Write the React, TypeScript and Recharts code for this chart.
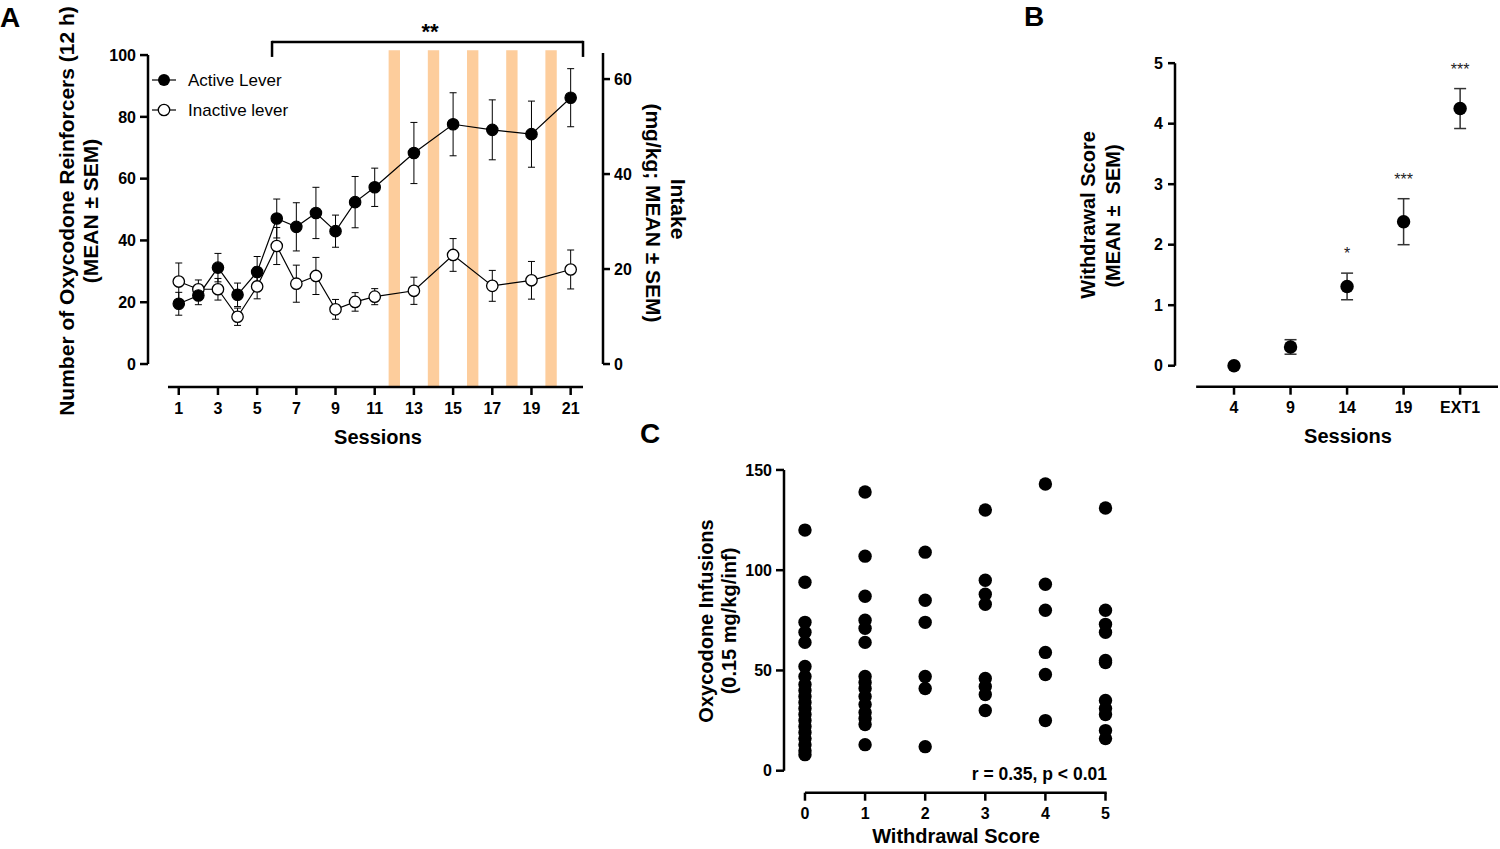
import React from 'react';
import {
  ComposedChart,
  ScatterChart,
  Line,
  Scatter,
  XAxis,
  YAxis,
  ErrorBar,
  ReferenceArea,
  ReferenceLine,
  ReferenceDot,
} from 'recharts';

const FONT = '"Liberation Sans", Arial, Helvetica, sans-serif';

// ---------- Panel A data ----------
const sessions = [1, 2, 3, 4, 5, 6, 7, 8, 9, 10, 11, 13, 15, 17, 19, 21];
const activeMean = [19.5, 22.2, 31.2, 22.4, 29.8, 47.1, 44.4, 48.9, 43.0, 52.4, 57.2, 68.3, 77.6, 75.8, 74.4, 86.2];
const activeSem = [3.7, 3.0, 4.6, 3.8, 5.0, 6.3, 7.8, 8.3, 5.2, 8.3, 6.2, 9.9, 10.2, 9.7, 10.7, 9.4];
const inactiveMean = [26.7, 24.2, 24.2, 15.3, 25.1, 38.2, 26.0, 28.5, 17.7, 20.1, 21.8, 23.7, 35.3, 25.3, 27.1, 30.6];
const inactiveSem = [6.0, 3.0, 3.5, 2.8, 4.0, 6.0, 6.0, 6.0, 3.2, 3.0, 2.6, 4.4, 5.3, 5.0, 6.1, 6.3];
const sessionTicks = [1, 3, 5, 7, 9, 11, 13, 15, 17, 19, 21];
const leftTicks = [0, 20, 40, 60, 80, 100];
const rightTicks = [0, 20, 40, 60];
const shadedSessions = [12, 14, 16, 18, 20];

// ---------- Panel B data ----------
const withdrawalSessions = ['4', '9', '14', '19', 'EXT1'];
const withdrawalMean = [0, 0.31, 1.31, 2.38, 4.25];
const withdrawalSem = [0, 0.12, 0.22, 0.38, 0.33];
const withdrawalStars = ['', '', '*', '***', '***'];
const withdrawalTicks = [0, 1, 2, 3, 4, 5];

// ---------- Panel C data ----------
const scoreLevels = [0, 1, 2, 3, 4, 5];
const infusionsScore0 = [120, 94, 74, 69, 64, 52, 47, 43, 40, 37, 34, 31, 28, 25, 22, 19, 16, 13, 10, 8];
const infusionsScore1 = [139, 107, 87, 75, 71, 64, 47, 44, 41, 37, 33, 29, 26, 23, 13];
const infusionsScore2 = [109, 85, 74, 47, 41, 12];
const infusionsScore3 = [130, 95, 88, 83, 46, 42, 38, 30];
const infusionsScore4 = [143, 93, 80, 59, 48, 25];
const infusionsScore5 = [131, 80, 73, 69, 55, 54, 35, 31, 28, 20, 16];
const infusionTicks = [0, 50, 100, 150];

const dataA = sessions.map((s, i) => ({
  session: s,
  active: activeMean[i],
  activeSem: activeSem[i],
  inactive: inactiveMean[i],
  inactiveSem: inactiveSem[i],
}));

const dataB = withdrawalSessions.map((s, i) => ({
  x: i,
  y: withdrawalMean[i],
  err: withdrawalSem[i],
}));

const columnsC = [infusionsScore0, infusionsScore1, infusionsScore2, infusionsScore3, infusionsScore4, infusionsScore5];
const dataC = columnsC.flatMap((col, s) => col.map((v) => ({ score: scoreLevels[s], inf: v })));

const tickStyle = { fill: '#000', fontSize: 16, fontWeight: 700, fontFamily: FONT };
const tickLineStyle = { stroke: '#000', strokeWidth: 2.5 };
const AX = 2.5;

const dotShape = (props: any) => <circle cx={props.cx} cy={props.cy} r={6.7} fill="#000" />;

export default function App() {
  // Panel A domains
  const aX: [number, number] = [-0.57, 22.65];
  const aYL: [number, number] = [-7.44, 112];
  const aYR: [number, number] = [-4.84, 72.86];
  // Panel B domains
  const bX: [number, number] = [-1.044, 4.67];
  const bY: [number, number] = [-0.347, 5.383];
  // Panel C domains
  const cX: [number, number] = [-0.349, 5.208];
  const cY: [number, number] = [-10.97, 154.96];

  return (
    <div style={{ position: 'absolute', left: 0, top: 0, width: 1500, height: 849, background: '#fff', fontFamily: FONT, overflow: 'hidden' }}>
      {/* Panel A */}
      <div style={{ position: 'absolute', left: 0, top: 0 }}>
        <ComposedChart width={720} height={460} data={dataA} margin={{ top: 18, right: 57, bottom: 43, left: 88 }}>
          <XAxis
            dataKey="session"
            type="number"
            domain={aX}
            allowDataOverflow
            ticks={sessionTicks}
            interval={0}
            axisLine={false}
            tickLine={tickLineStyle}
            tickSize={8}
            tickMargin={8}
            tick={tickStyle}
            height={30}
          />
          <YAxis
            yAxisId="left"
            type="number"
            domain={aYL}
            allowDataOverflow
            ticks={leftTicks}
            interval={0}
            width={60}
            axisLine={false}
            tickLine={tickLineStyle}
            tickSize={8}
            tickMargin={4}
            tick={tickStyle}
          />
          <YAxis
            yAxisId="right"
            orientation="right"
            type="number"
            domain={aYR}
            allowDataOverflow
            ticks={rightTicks}
            interval={0}
            width={60}
            axisLine={false}
            tickLine={tickLineStyle}
            tickSize={7}
            tickMargin={4}
            tick={tickStyle}
          />
          {shadedSessions.map((s) => (
            <ReferenceArea
              key={s}
              yAxisId="left"
              x1={s - 0.29}
              x2={s + 0.29}
              y1={aYL[0]}
              y2={101.6}
              fill="#FDCD9C"
              fillOpacity={1}
              stroke="none"
              ifOverflow="visible"
            />
          ))}
          {/* offset axes */}
          <ReferenceLine yAxisId="left" segment={[{ x: aX[0], y: 0 }, { x: aX[0], y: 100 }]} stroke="#000" strokeWidth={AX} ifOverflow="visible" />
          <ReferenceLine yAxisId="right" segment={[{ x: aX[1], y: 0 }, { x: aX[1], y: 65.5 }]} stroke="#000" strokeWidth={AX} ifOverflow="visible" />
          <ReferenceLine yAxisId="left" segment={[{ x: 0.45, y: aYL[0] }, { x: 21.63, y: aYL[0] }]} stroke="#000" strokeWidth={AX} ifOverflow="visible" />
          {/* significance bracket */}
          <ReferenceLine yAxisId="left" segment={[{ x: 5.76, y: 104.2 }, { x: 21.63, y: 104.2 }]} stroke="#000" strokeWidth={AX} ifOverflow="visible" />
          <ReferenceLine yAxisId="left" segment={[{ x: 5.76, y: 104.6 }, { x: 5.76, y: 99.4 }]} stroke="#000" strokeWidth={AX} ifOverflow="visible" />
          <ReferenceLine yAxisId="left" segment={[{ x: 21.63, y: 104.6 }, { x: 21.63, y: 99.4 }]} stroke="#000" strokeWidth={AX} ifOverflow="visible" />
          <Line
            yAxisId="left"
            dataKey="inactive"
            stroke="#000"
            strokeWidth={1.2}
            dot={{ r: 5.7, fill: '#fff', stroke: '#000', strokeWidth: 1.3 }}
            activeDot={false}
            isAnimationActive={false}
          >
            <ErrorBar dataKey="inactiveSem" direction="y" width={3.5} stroke="#000" strokeWidth={1} />
          </Line>
          <Line
            yAxisId="left"
            dataKey="active"
            stroke="#000"
            strokeWidth={1.2}
            dot={{ r: 5.7, fill: '#000', stroke: '#000', strokeWidth: 1.2 }}
            activeDot={false}
            isAnimationActive={false}
          >
            <ErrorBar dataKey="activeSem" direction="y" width={3.5} stroke="#000" strokeWidth={1} />
          </Line>
        </ComposedChart>
      </div>

      {/* Panel B */}
      <div style={{ position: 'absolute', left: 1060, top: 0 }}>
        <ScatterChart width={440} height={460} margin={{ top: 40, right: 2, bottom: 43.3, left: 65 }}>
          <XAxis
            dataKey="x"
            type="number"
            domain={bX}
            allowDataOverflow
            ticks={[0, 1, 2, 3, 4]}
            interval={0}
            tickFormatter={(v: number) => withdrawalSessions[v] ?? ''}
            axisLine={false}
            tickLine={tickLineStyle}
            tickSize={8}
            tickMargin={7}
            tick={tickStyle}
            height={30}
          />
          <YAxis
            dataKey="y"
            type="number"
            domain={bY}
            allowDataOverflow
            ticks={withdrawalTicks}
            interval={0}
            width={50}
            axisLine={false}
            tickLine={tickLineStyle}
            tickSize={7}
            tickMargin={5}
            tick={tickStyle}
          />
          <ReferenceLine segment={[{ x: bX[0], y: 0 }, { x: bX[0], y: 5 }]} stroke="#000" strokeWidth={AX} ifOverflow="visible" />
          <ReferenceLine segment={[{ x: -0.67, y: bY[0] }, { x: 4.67, y: bY[0] }]} stroke="#000" strokeWidth={AX} ifOverflow="visible" />
          <Scatter data={dataB} shape={dotShape} isAnimationActive={false}>
            <ErrorBar dataKey="err" direction="y" width={6} stroke="#333" strokeWidth={1.5} />
          </Scatter>
          {dataB.map((d, i) =>
            withdrawalStars[i] ? (
              <ReferenceDot
                key={i}
                x={d.x}
                y={d.y + d.err}
                r={0}
                fill="none"
                stroke="none"
                ifOverflow="visible"
                label={{ value: withdrawalStars[i], position: 'top', offset: 14, fontSize: 16, fill: '#222', fontFamily: FONT }}
              />
            ) : null
          )}
        </ScatterChart>
      </div>

      {/* Panel C */}
      <div style={{ position: 'absolute', left: 690, top: 440 }}>
        <ScatterChart width={440} height={409} margin={{ top: 20, right: 12, bottom: 26.3, left: 44 }}>
          <XAxis
            dataKey="score"
            type="number"
            domain={cX}
            allowDataOverflow
            ticks={scoreLevels}
            interval={0}
            axisLine={false}
            tickLine={tickLineStyle}
            tickSize={8}
            tickMargin={7}
            tick={tickStyle}
            height={30}
          />
          <YAxis
            dataKey="inf"
            type="number"
            domain={cY}
            allowDataOverflow
            ticks={infusionTicks}
            interval={0}
            width={50}
            axisLine={false}
            tickLine={tickLineStyle}
            tickSize={8}
            tickMargin={4}
            tick={tickStyle}
          />
          <ReferenceLine segment={[{ x: cX[0], y: 0 }, { x: cX[0], y: 150 }]} stroke="#000" strokeWidth={AX} ifOverflow="visible" />
          <ReferenceLine segment={[{ x: 0, y: cY[0] }, { x: 5.02, y: cY[0] }]} stroke="#000" strokeWidth={AX} ifOverflow="visible" />
          <Scatter data={dataC} shape={dotShape} isAnimationActive={false} />
        </ScatterChart>
      </div>

      {/* Static text overlay */}
      <svg width={1500} height={849} style={{ position: 'absolute', left: 0, top: 0, pointerEvents: 'none' }} fontFamily={FONT}>
        {/* panel letters */}
        <text x={0} y={27} fontSize={28} fontWeight={700} fill="#000">A</text>
        <text x={1024} y={26} fontSize={28} fontWeight={700} fill="#000">B</text>
        <text x={640} y={443} fontSize={28} fontWeight={700} fill="#000">C</text>

        {/* Panel A texts */}
        <text x={430} y={39} fontSize={22} fontWeight={700} textAnchor="middle" fill="#000">**</text>
        <text transform="translate(66,211) rotate(-90)" fontSize={21} fontWeight={700} textAnchor="middle" dominantBaseline="central" fill="#000">
          Number of Oxycodone Reinforcers (12 h)
        </text>
        <text transform="translate(90,211) rotate(-90)" fontSize={21} fontWeight={700} textAnchor="middle" dominantBaseline="central" fill="#000">
          (MEAN ± SEM)
        </text>
        <text transform="translate(678,209) rotate(90)" fontSize={21} fontWeight={700} textAnchor="middle" dominantBaseline="central" fill="#000">
          Intake
        </text>
        <text transform="translate(653,213) rotate(90)" fontSize={21} fontWeight={700} textAnchor="middle" dominantBaseline="central" fill="#000">
          (mg/kg; MEAN ± SEM)
        </text>
        <text x={378} y={444} fontSize={20} fontWeight={700} textAnchor="middle" fill="#000">Sessions</text>

        {/* Panel A legend */}
        <line x1={152} y1={80} x2={176} y2={80} stroke="#000" strokeWidth={1.2} />
        <circle cx={164} cy={80} r={6} fill="#000" />
        <text x={188} y={86} fontSize={17} fill="#000">Active Lever</text>
        <line x1={152} y1={110} x2={176} y2={110} stroke="#000" strokeWidth={1.2} />
        <circle cx={164} cy={110} r={5.7} fill="#fff" stroke="#000" strokeWidth={1.3} />
        <text x={188} y={116} fontSize={17} fill="#000">Inactive lever</text>

        {/* Panel B texts */}
        <text transform="translate(1088,215) rotate(-90)" fontSize={20} fontWeight={700} textAnchor="middle" dominantBaseline="central" fill="#000">
          Withdrawal Score
        </text>
        <text transform="translate(1113,216) rotate(-90)" fontSize={20} fontWeight={700} textAnchor="middle" dominantBaseline="central" fill="#000" style={{ whiteSpace: 'pre' }}>
          {'(MEAN ±  SEM)'}
        </text>
        <text x={1348} y={443} fontSize={20} fontWeight={700} textAnchor="middle" fill="#000">Sessions</text>

        {/* Panel C texts */}
        <text transform="translate(706,621) rotate(-90)" fontSize={20} fontWeight={700} textAnchor="middle" dominantBaseline="central" fill="#000">
          Oxycodone Infusions
        </text>
        <text transform="translate(729,621) rotate(-90)" fontSize={20} fontWeight={700} textAnchor="middle" dominantBaseline="central" fill="#000">
          (0.15 mg/kg/inf)
        </text>
        <text x={956} y={843} fontSize={20} fontWeight={700} textAnchor="middle" fill="#000">Withdrawal Score</text>
        <text x={1107} y={780} fontSize={17.5} fontWeight={700} textAnchor="end" fill="#000">r = 0.35, p &lt; 0.01</text>
      </svg>
    </div>
  );
}
